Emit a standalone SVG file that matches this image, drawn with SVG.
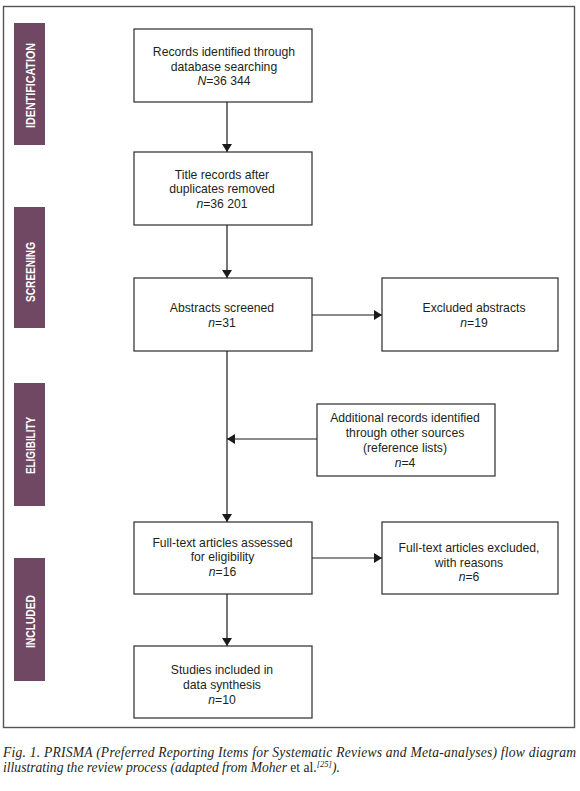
<svg xmlns="http://www.w3.org/2000/svg" width="580" height="791" viewBox="0 0 580 791">
<defs>
<style>
.box{fill:#fff;stroke:#2a2a2a;stroke-width:1.2}
.t{font-family:"Liberation Sans",Arial,sans-serif;font-size:12.2px;fill:#231f20;text-anchor:middle}
.i{font-style:italic}
.lab{fill:#714863}
.lt{font-family:"Liberation Sans",Arial,sans-serif;font-size:12.5px;font-weight:bold;fill:#fff;text-anchor:middle}
.c{fill:none;stroke:#1a1a1a;stroke-width:1.2}
.cap{font-family:"Liberation Serif","Times New Roman",serif;font-size:13.6px;font-style:italic;fill:#231f20}
</style>
<marker id="ah" viewBox="0 0 8 10" refX="8" refY="5" markerWidth="8" markerHeight="10" markerUnits="userSpaceOnUse" orient="auto">
<path d="M0,0 L8,5 L0,10 Z" fill="#1a1a1a"/>
</marker>
</defs>
<rect width="580" height="791" fill="#fff"/>
<rect x="3.5" y="6.5" width="571" height="721" fill="none" stroke="#555" stroke-width="1.4"/>

<g id="stage-labels">
<g id="lab-identification"><rect class="lab" x="14" y="23" width="31" height="122"/><text class="lt" transform="translate(34.5,85.5) rotate(-90)" textLength="85" lengthAdjust="spacingAndGlyphs">IDENTIFICATION</text></g>
<g id="lab-screening"><rect class="lab" x="14" y="207" width="31" height="121"/><text class="lt" transform="translate(34.5,272) rotate(-90)" textLength="60" lengthAdjust="spacingAndGlyphs">SCREENING</text></g>
<g id="lab-eligibility"><rect class="lab" x="14" y="383" width="31" height="123"/><text class="lt" transform="translate(34.5,445.5) rotate(-90)" textLength="57" lengthAdjust="spacingAndGlyphs">ELIGIBILITY</text></g>
<g id="lab-included"><rect class="lab" x="14" y="558" width="31" height="123"/><text class="lt" transform="translate(34.5,621.5) rotate(-90)" textLength="53" lengthAdjust="spacingAndGlyphs">INCLUDED</text></g>
</g>

<g id="connectors">
<line class="c" x1="227" y1="102" x2="227" y2="152" marker-end="url(#ah)"/>
<line class="c" x1="227" y1="225" x2="227" y2="278" marker-end="url(#ah)"/>
<line class="c" x1="312" y1="315" x2="382" y2="315" marker-end="url(#ah)"/>
<line class="c" x1="227" y1="351" x2="227" y2="522" marker-end="url(#ah)"/>
<line class="c" x1="317" y1="439" x2="227" y2="439" marker-end="url(#ah)"/>
<line class="c" x1="312" y1="558" x2="382" y2="558" marker-end="url(#ah)"/>
<line class="c" x1="227" y1="594" x2="227" y2="646" marker-end="url(#ah)"/>
</g>

<g id="n-records">
<rect class="box" x="134" y="29" width="178" height="73"/>
<text class="t" x="224" y="56">Records identified through</text>
<text class="t" x="224" y="70.5">database searching</text>
<text class="t" x="224" y="85"><tspan class="i">N</tspan>=36 344</text>
</g>
<g id="n-title">
<rect class="box" x="134" y="152" width="178" height="73"/>
<text class="t" x="222" y="178.5">Title records after</text>
<text class="t" x="222" y="193">duplicates removed</text>
<text class="t" x="222" y="207.5"><tspan class="i">n</tspan>=36 201</text>
</g>
<g id="n-abstracts">
<rect class="box" x="134" y="278" width="178" height="73"/>
<text class="t" x="222" y="312">Abstracts screened</text>
<text class="t" x="222" y="326.5"><tspan class="i">n</tspan>=31</text>
</g>
<g id="n-excluded-abstracts">
<rect class="box" x="382" y="278" width="176" height="73"/>
<text class="t" x="474" y="312">Excluded abstracts</text>
<text class="t" x="474" y="326.5"><tspan class="i">n</tspan>=19</text>
</g>
<g id="n-additional">
<rect class="box" x="317" y="404" width="178" height="72"/>
<text class="t" x="405" y="421.5">Additional records identified</text>
<text class="t" x="405" y="437">through other sources</text>
<text class="t" x="405" y="452">(reference lists)</text>
<text class="t" x="405" y="467"><tspan class="i">n</tspan>=4</text>
</g>
<g id="n-fulltext">
<rect class="box" x="134" y="522" width="178" height="72"/>
<text class="t" x="222.5" y="546.5">Full-text articles assessed</text>
<text class="t" x="222.5" y="561">for eligibility</text>
<text class="t" x="222.5" y="575.5"><tspan class="i">n</tspan>=16</text>
</g>
<g id="n-fulltext-excluded">
<rect class="box" x="382" y="522" width="176" height="72"/>
<text class="t" x="469" y="552">Full-text articles excluded,</text>
<text class="t" x="469" y="567">with reasons</text>
<text class="t" x="469" y="581"><tspan class="i">n</tspan>=6</text>
</g>
<g id="n-included">
<rect class="box" x="134" y="646" width="178" height="72"/>
<text class="t" x="222" y="674">Studies included in</text>
<text class="t" x="222" y="689">data synthesis</text>
<text class="t" x="222" y="704"><tspan class="i">n</tspan>=10</text>
</g>

<g id="caption">
<text class="cap" x="3" y="756.5" textLength="573" lengthAdjust="spacing">Fig. 1. PRISMA (Preferred Reporting Items for Systematic Reviews and Meta-analyses) flow diagram</text>
<text class="cap" x="3" y="772">illustrating the review process (adapted from Moher <tspan font-style="normal">et al.</tspan><tspan font-size="8.5" dy="-5">[25]</tspan><tspan dy="5">).</tspan></text>
</g>
</svg>
